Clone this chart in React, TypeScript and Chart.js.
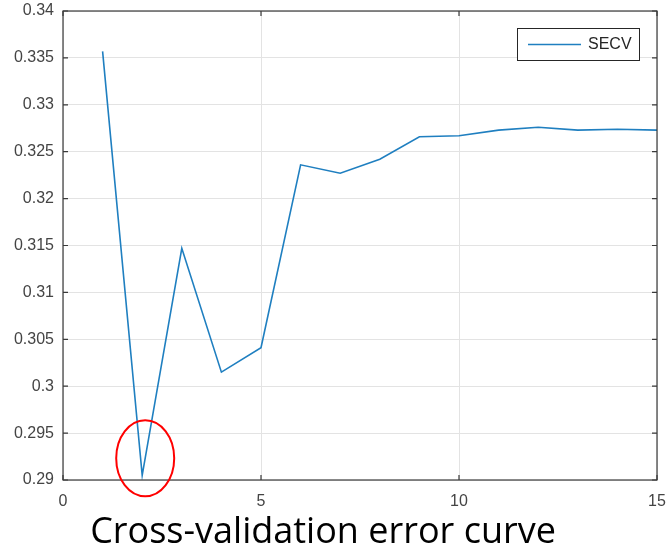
import React, { useEffect, useRef } from "react";
import { Chart, registerables } from "chart.js";

Chart.register(...registerables);

const components: number[] = [1, 2, 3, 4, 5, 6, 7, 8, 9, 10, 11, 12, 13, 14, 15];
const secvValues: number[] = [
  0.3357, 0.2905, 0.3147, 0.3015, 0.3041, 0.3236, 0.3227, 0.3242, 0.3266,
  0.3267, 0.3273, 0.3276, 0.3273, 0.3274, 0.3273,
];
const seriesLabel = "SECV";
const captionText = "Cross-validation error curve";
const xTickStep = 5;
const yTickStep = 0.005;
const highlightIndex = 1;

const LINE_COLOR = "#1f7fc0";
const AXIS_COLOR = "#3a3a3a";
const LABEL_COLOR = "#444444";
const GRID_COLOR = "#e3e3e3";

const framePlugin = {
  id: "framePlugin",
  afterDraw(chart: any) {
    const { ctx, chartArea, scales } = chart;
    const xs = scales.x;
    const ys = scales.y;
    const { left, right, top, bottom } = chartArea;
    ctx.save();
    // box
    ctx.strokeStyle = AXIS_COLOR;
    ctx.lineWidth = 1.2;
    ctx.strokeRect(left, top, right - left, bottom - top);
    // inward ticks
    const tl = 5;
    ctx.beginPath();
    xs.ticks.forEach((t: any) => {
      const px = xs.getPixelForValue(t.value);
      ctx.moveTo(px, bottom);
      ctx.lineTo(px, bottom - tl);
      ctx.moveTo(px, top);
      ctx.lineTo(px, top + tl);
    });
    ys.ticks.forEach((t: any) => {
      const py = ys.getPixelForValue(t.value);
      ctx.moveTo(left, py);
      ctx.lineTo(left + tl, py);
      ctx.moveTo(right, py);
      ctx.lineTo(right - tl, py);
    });
    ctx.stroke();

    // legend
    const lx = 517, ly = 28, lw = 122, lh = 32;
    ctx.fillStyle = "#ffffff";
    ctx.fillRect(lx, ly, lw, lh);
    ctx.strokeStyle = "#262626";
    ctx.lineWidth = 1;
    ctx.strokeRect(lx + 0.5, ly + 0.5, lw, lh);
    ctx.strokeStyle = LINE_COLOR;
    ctx.lineWidth = 1.5;
    ctx.beginPath();
    ctx.moveTo(528, 44.5);
    ctx.lineTo(581, 44.5);
    ctx.stroke();
    ctx.fillStyle = "#262626";
    ctx.font = "16px 'Liberation Sans', Arial, sans-serif";
    ctx.textBaseline = "middle";
    ctx.textAlign = "left";
    ctx.fillText(seriesLabel, 588, 45);

    // red ellipse around minimum
    const cx = xs.getPixelForValue(components[highlightIndex]) + 3;
    const cy = ys.getPixelForValue(secvValues[highlightIndex]) - 17;
    ctx.strokeStyle = "#ff0000";
    ctx.lineWidth = 2;
    ctx.beginPath();
    ctx.ellipse(cx, cy, 29, 38, 0, 0, Math.PI * 2);
    ctx.stroke();

    // caption
    ctx.fillStyle = "#000000";
    ctx.font = "36px 'Open Sans', Lato, sans-serif";
    ctx.textAlign = "center";
    ctx.textBaseline = "alphabetic";
    ctx.fillText(captionText, 323, 543, 470);
    ctx.restore();
  },
};

export default function App() {
  const ref = useRef<HTMLCanvasElement>(null);
  useEffect(() => {
    document.body.style.margin = "0";
    const canvas = ref.current!;
    const chart = new Chart(canvas, {
      type: "line",
      data: {
        datasets: [
          {
            label: seriesLabel,
            data: components.map((c, i) => ({ x: c, y: secvValues[i] })),
            borderColor: LINE_COLOR,
            borderWidth: 1.6,
            pointRadius: 0,
            tension: 0,
            fill: false,
          },
        ],
      },
      options: {
        animation: false,
        responsive: false,
        devicePixelRatio: 1,
        layout: { padding: { top: 11, right: 11, left: 0, bottom: 0 } },
        plugins: { legend: { display: false }, tooltip: { enabled: false }, title: { display: false } },
        scales: {
          x: {
            type: "linear",
            min: 0,
            max: 15,
            afterFit: (s: any) => {
              s.height = 70;
              s.paddingLeft = 0;
              s.paddingRight = 0;
            },
            grid: { color: GRID_COLOR, drawTicks: false, lineWidth: 1 },
            border: { display: false },
            ticks: {
              stepSize: xTickStep,
              padding: 12,
              color: LABEL_COLOR,
              font: { family: "'Liberation Sans', Arial, sans-serif", size: 16 },
              maxRotation: 0,
            },
          },
          y: {
            type: "linear",
            min: 0.29,
            max: 0.34,
            afterFit: (s: any) => {
              s.width = 63;
              s.paddingTop = 0;
              s.paddingBottom = 0;
            },
            grid: { color: GRID_COLOR, drawTicks: false, lineWidth: 1 },
            border: { display: false },
            ticks: {
              stepSize: yTickStep,
              padding: 9,
              color: LABEL_COLOR,
              font: { family: "'Liberation Sans', Arial, sans-serif", size: 16 },
              callback: (v: any) => String(Number(Number(v).toFixed(3))),
            },
          },
        },
      },
      plugins: [framePlugin],
    });
    return () => chart.destroy();
  }, []);
  return (
    <div style={{ width: 668, height: 550, background: "#fff" }}>
      <canvas ref={ref} width={668} height={550} />
    </div>
  );
}
